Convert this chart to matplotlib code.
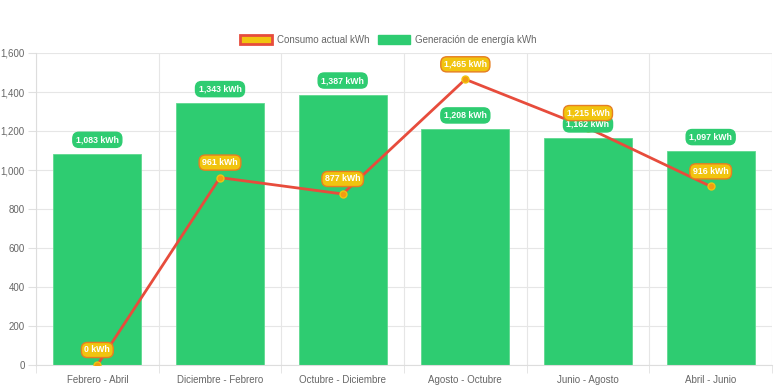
import numpy as np
import matplotlib
matplotlib.use("Agg")
from matplotlib import pyplot as plt
from matplotlib.patches import Patch

periodos = ["Febrero - Abril", "Diciembre - Febrero", "Octubre - Diciembre",
            "Agosto - Octubre", "Junio - Agosto", "Abril - Junio"]
generacion = [1083, 1343, 1387, 1208, 1162, 1097]
consumo = [0, 961, 877, 1465, 1215, 916]

verde = "#2ecc71"
amarillo = "#f1c40f"
rojo = "#e74c3c"
gris = "#666666"

plt.rcParams["font.family"] = ["Liberation Sans", "DejaVu Sans"]

fig = plt.figure(figsize=(7.76, 3.88), dpi=100)
ax = fig.add_axes([36 / 776, 1 - 365 / 388, 736 / 776, 312 / 388])

x = np.arange(len(periodos))
ax.bar(x, generacion, width=0.72, color=verde, edgecolor="#5fd98f", lw=0.6, zorder=2)
ax.plot(x, consumo, color=rojo, lw=2, marker="o", ms=5,
        mfc="#f39c12", mec=amarillo, mew=1, zorder=3)

# etiquetas de las barras
for xi, v in zip(x, generacion):
    ax.annotate(f"{v:,} kWh", (xi, v), xytext=(0, 14), textcoords="offset pixels",
                ha="center", va="center", fontsize=6.3, fontweight="bold", color="white",
                bbox=dict(boxstyle="round,pad=0.35,rounding_size=0.7", fc=verde, ec=verde, lw=1),
                zorder=4)
# etiquetas de la linea
for xi, v in zip(x, consumo):
    ax.annotate(f"{v:,} kWh", (xi, v), xytext=(0, 15), textcoords="offset pixels",
                ha="center", va="center", fontsize=6.3, fontweight="bold", color="white",
                bbox=dict(boxstyle="round,pad=0.35,rounding_size=0.7", fc=amarillo, ec="#e67e22", lw=1),
                zorder=5)

ax.set_xlim(-0.5, len(periodos) - 0.5)
ax.set_ylim(0, 1600)
ax.set_yticks(np.arange(0, 1601, 200))
ax.set_yticklabels([f"{t:,}" for t in range(0, 1601, 200)])
ax.set_xticks(x)
ax.set_xticklabels(periodos)
ax.set_xticks(np.arange(-0.5, len(periodos)), minor=True)
ax.tick_params(axis="x", which="major", length=0, pad=7, labelsize=7, colors=gris)
ax.tick_params(axis="x", which="minor", length=6, color="#e0e0e0")
ax.tick_params(axis="y", length=6, color="#e0e0e0", labelsize=7, colors=gris, pad=2)
ax.grid(True, axis="y", color="#e6e6e6", lw=0.8, zorder=0)
ax.grid(True, axis="x", which="minor", color="#e6e6e6", lw=0.8, zorder=0)
for s in ["top", "right"]:
    ax.spines[s].set_visible(False)
ax.spines["left"].set_color("#dddddd")
ax.spines["bottom"].set_color("#dddddd")

handles = [Patch(facecolor=amarillo, edgecolor=rojo, lw=2, label="Consumo actual kWh"),
           Patch(facecolor=verde, edgecolor=verde, label="Generación de energía kWh")]
fig.legend(handles=handles, loc="center", bbox_to_anchor=(0.5, 1 - 40 / 388), ncol=2,
           frameon=False, fontsize=7, labelcolor=gris, handlelength=3.3, handleheight=1.0,
           columnspacing=0.9, handletextpad=0.5)

fig.savefig("out.png", dpi=100)
